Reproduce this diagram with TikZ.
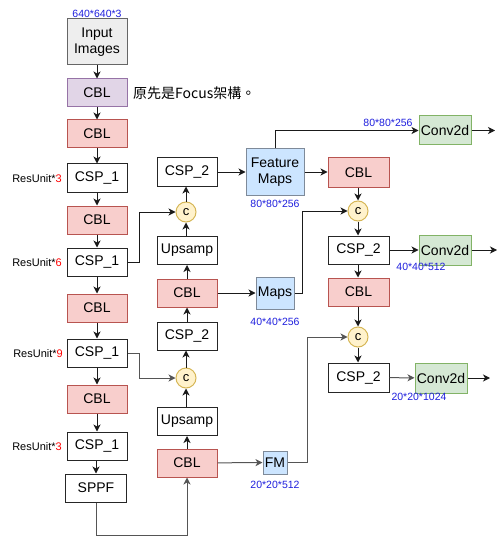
\documentclass[tikz,border=0pt]{standalone}
\usepackage{fontspec}
\setmainfont{Liberation Sans}
\newfontfamily\cjkfont{Noto Sans CJK TC}
\usetikzlibrary{arrows.meta}
\definecolor{redfill}{HTML}{F8CECC}\definecolor{redline}{HTML}{B85450}
\definecolor{purfill}{HTML}{E1D5E7}\definecolor{purline}{HTML}{9673A6}
\definecolor{bluefill}{HTML}{CCE5FF}\definecolor{blueline}{HTML}{7E8A99}
\definecolor{grnfill}{HTML}{D5E8D4}\definecolor{grnline}{HTML}{82B366}
\definecolor{yelfill}{HTML}{FFF2CC}\definecolor{yelline}{HTML}{D6B656}
\definecolor{grayfill}{HTML}{EEEEEE}\definecolor{grayline}{HTML}{666666}
\definecolor{lbl}{HTML}{1F1FDD}
\definecolor{conn}{HTML}{1A1A1A}\definecolor{gconn}{HTML}{555555}
\tikzset{
  box/.style={draw, line width=1pt, minimum width=60pt, minimum height=28pt, inner sep=0pt, font=\fontsize{14pt}{16pt}\selectfont, align=center},
  wbox/.style={box, draw=black!85, fill=white},
  rbox/.style={box, draw=redline, fill=redfill},
  pbox/.style={box, draw=purline, fill=purfill},
  bbox/.style={box, draw=blueline, fill=bluefill},
  gbox/.style={box, draw=grnline, fill=grnfill, minimum width=52pt},
  cat/.style={circle, draw=yelline, fill=yelfill, line width=1pt, minimum size=20pt, inner sep=0pt, font=\fontsize{13pt}{14pt}\selectfont},
  dim/.style={text=lbl, font=\fontsize{10.5pt}{11pt}\selectfont, inner sep=0pt},
  res/.style={font=\fontsize{11pt}{12pt}\selectfont, inner sep=0pt, anchor=east},
  arr/.style={draw=conn, line width=1pt, -{Stealth[length=7pt,width=7pt,inset=2pt]}},
  garr/.style={arr, draw=gconn},
  ln/.style={draw=conn, line width=1pt},
}
\begin{document}
\begin{tikzpicture}[x=1pt,y=-1pt]
\useasboundingbox (0,0) rectangle (502,548);
% left column
\node[box, draw=grayline, fill=grayfill, minimum height=46pt] (in) at (97,42) {Input\\Images};
\node[dim] (lin) at (97,14) {640*640*3};
\node[pbox] (cbl0) at (97,93) {CBL};
\node[anchor=west, inner sep=0pt, font=\fontsize{14pt}{16pt}\cjkfont] (note) at (133,93) {原先是Focus架構。};
\node[rbox] (cbl1) at (97,134) {CBL};
\node[wbox] (csp1a) at (97,178) {CSP\_1};
\node[rbox] (cbl2) at (97,220) {CBL};
\node[wbox] (csp1b) at (97,262) {CSP\_1};
\node[rbox] (cbl3) at (97,308) {CBL};
\node[wbox] (csp1c) at (97,353) {CSP\_1};
\node[rbox] (cbl4) at (97,399) {CBL};
\node[wbox] (csp1d) at (97,446) {CSP\_1};
\node[wbox, minimum width=61pt] (sppf) at (96,488) {SPPF};
\node[res] (r1) at (62,179) {ResUnit*\textcolor{red}{3}};
\node[res] (r2) at (62,263) {ResUnit*\textcolor{red}{6}};
\node[res] (r3) at (63,354) {ResUnit*\textcolor{red}{9}};
\node[res] (r4) at (62,447) {ResUnit*\textcolor{red}{3}};
% middle column
\node[wbox] (csp2a) at (187,172) {CSP\_2};
\node[cat] (ca) at (186,212) {c};
\node[wbox] (ups1) at (187,250.5) {Upsamp};
\node[rbox] (cbl5) at (187,293) {CBL};
\node[wbox] (csp2b) at (187,336) {CSP\_2};
\node[cat] (cb) at (186,378) {c};
\node[wbox] (ups2) at (187,421.5) {Upsamp};
\node[rbox] (cbl6) at (187,463) {CBL};
% feature maps
\node[bbox, minimum width=58pt, minimum height=46pt] (fm80) at (275,172) {Feature\\Maps};
\node[dim] (l80) at (275,204) {80*80*256};
\node[bbox, minimum width=38pt, minimum height=32pt] (maps) at (275,293) {Maps};
\node[dim] (l40) at (275,322) {40*40*256};
\node[bbox, minimum width=24pt, minimum height=23pt] (fm20) at (275,462.5) {FM};
\node[dim] (l20) at (275,485) {20*20*512};
% right column
\node[gbox, minimum height=29pt] (conv1) at (445,130.5) {Conv2d};
\node[dim] (lc1) at (388,123) {80*80*256};
\node[rbox, minimum width=61pt, minimum height=29pt] (cbl7) at (358.5,172.5) {CBL};
\node[cat] (cc) at (358,211) {c};
\node[wbox, minimum width=61pt] (csp2c) at (358.5,250) {CSP\_2};
\node[gbox, minimum height=30pt] (conv2) at (445,250) {Conv2d};
\node[dim] (lc2) at (421,267) {40*40*512};
\node[rbox, minimum width=61pt] (cbl8) at (358.5,292) {CBL};
\node[cat] (cd) at (358,337) {c};
\node[wbox, minimum width=61pt, minimum height=29pt] (csp2d) at (358.5,377.5) {CSP\_2};
\node[gbox, minimum height=30pt] (conv3) at (441,378) {Conv2d};
\node[dim] (lc3) at (419,397) {20*20*1024};
\coordinate (o1) at (495,130.5);
\coordinate (o2) at (497,250);
\coordinate (o3) at (490,378);
% left column arrows
\draw[arr] (in) -- (cbl0);
\draw[arr] (cbl0) -- (cbl1);
\draw[arr] (cbl1) -- (csp1a);
\draw[arr] (csp1a) -- (cbl2);
\draw[arr] (cbl2) -- (csp1b);
\draw[arr] (csp1b) -- (cbl3);
\draw[arr] (cbl3) -- (csp1c);
\draw[arr] (csp1c) -- (cbl4);
\draw[arr] (cbl4) -- (csp1d);
\draw[arr] (csp1d.south -| sppf.north) -- (sppf.north);
\draw[garr] (sppf.south) -- ++(0,33) -| (cbl6.south);
% middle column arrows
\draw[arr] (cbl6) -- (ups2);
\draw[arr] (ups2.north -| cb.south) -- (cb.south);
\draw[arr] (cb.north) -- (cb.north |- csp2b.south);
\draw[arr] (csp2b) -- (cbl5);
\draw[arr] (cbl5) -- (ups1);
\draw[arr] (ups1.north -| ca.south) -- (ca.south);
\draw[arr] (ca.north) -- (ca.north |- csp2a.south);
\draw[arr] (csp1b.east) -- (139,262) |- (ca.west);
\draw[garr] (csp1c.east) -- (139,353) |- (cb.west);
% to feature maps
\draw[arr] (csp2a) -- (fm80);
\draw[arr] (cbl5) -- (maps);
\draw[garr] (cbl6) -- (fm20);
% right side
\draw[arr] (fm80.north) |- (conv1.west);
\draw[arr] (conv1.east) -- (o1);
\draw[arr] (fm80.east) -- (fm80.east -| cbl7.west);
\draw[arr] (cbl7.south -| cc.north) -- (cc.north);
\draw[arr] (cc.south) -- (cc.south |- csp2c.north);
\draw[arr] (maps.east) -- (302,293) |- (cc.west);
\draw[arr] (csp2c) -- (conv2);
\draw[arr] (conv2.east) -- (o2);
\draw[arr] (csp2c.south -| cc.south) -- (cc.south |- cbl8.north);
\draw[arr] (cbl8.south -| cd.north) -- (cd.north);
\draw[arr] (cd.south) -- (cd.south |- csp2d.north);
\draw[garr] (fm20.east) -- (307,462.5) |- (cd.west);
\draw[garr] (csp2d) -- (conv3);
\draw[arr] (conv3.east) -- (o3);
\end{tikzpicture}
\end{document}
